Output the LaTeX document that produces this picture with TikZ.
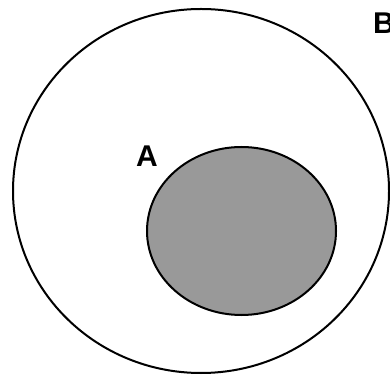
\documentclass[tikz,border=0pt]{standalone}
\usepackage{fontspec}
\setmainfont{Liberation Sans}
\usetikzlibrary{shapes.geometric}
\begin{document}
\begin{tikzpicture}[x=1pt,y=1pt,
  setshape/.style={ellipse,draw=black,line width=2pt,inner sep=0pt},
  setlabel/.style={font=\bfseries\fontsize{30}{30}\selectfont,inner sep=0pt,anchor=base west}]
\useasboundingbox (0,0) rectangle (390,377);
\clip (0,0) rectangle (390,377);
\node[setshape,minimum width=376pt,minimum height=364pt] (B) at (201,186) {};
\node[setshape,fill=black!40,minimum width=189pt,minimum height=168pt] (A) at (241.5,146) {};
\node[setlabel] (la) at (136,210) {A};
\node[setlabel] (lb) at (373,343) {B};
\end{tikzpicture}
\end{document}
